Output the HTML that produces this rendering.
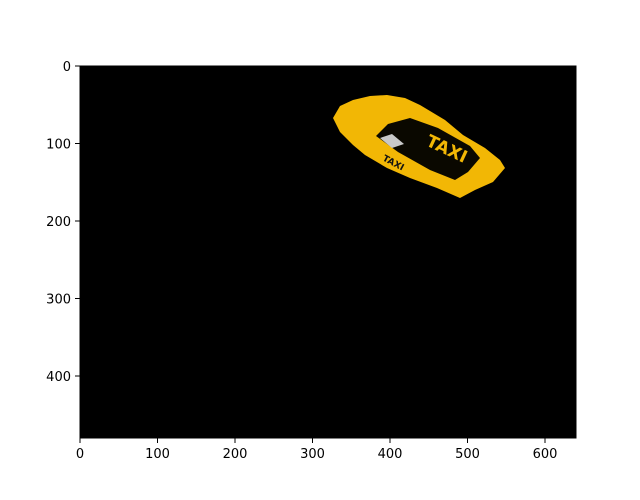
<!DOCTYPE html>
<html><head><meta charset="utf-8"><style>body{margin:0;background:#fff}svg{display:block;font-family:"DejaVu Sans","Liberation Sans",sans-serif}</style></head>
<body>
<svg width="640" height="500">
<rect x="0" y="0" width="640" height="500" fill="#fff"/>
<rect x="80" y="66" width="496" height="372" fill="#000"/>
<g>
<polygon points="333,118 340,106 353,100 370,96 387,95 405,98 420,105 445,120 463,135 485,148 500,160 505,168 493,182 475,190 460,198 437,188 410,178 387,168 365,155 353,145 340,132" fill="#f2b705"/>
<polygon points="376,136 388,124 410,118 438,128 470,146 480,158 468,172 455,180 430,170 398,152" fill="#0a0800"/>
<polygon points="380,138 392,134 404,144 392,148" fill="#c8c8c8"/>
<text x="382" y="160" font-size="9" font-weight="bold" fill="#111" transform="rotate(28 382 160)">TAXI</text>
<text x="425" y="145" font-size="17" font-weight="bold" fill="#f2b705" transform="rotate(25 425 145)">TAXI</text>
</g>
<rect x="80" y="66" width="496" height="372" fill="none" stroke="#000" stroke-width="1"/>
<g id="xt"></g>
<g id="yt"></g>
</svg>
<script>
const xTicks=[0,100,200,300,400,500,600];
const yTicks=[0,100,200,300,400];
const ns="http://www.w3.org/2000/svg";
const sx=v=>80+v*496/640, sy=v=>66+v*372/480;
const xg=document.getElementById('xt'), yg=document.getElementById('yt');
xTicks.forEach(t=>{
 const l=document.createElementNS(ns,'line');
 
 
 l.setAttribute('x1',sx(t));l.setAttribute('x2',sx(t));l.setAttribute('y1',438);l.setAttribute('y2',443);l.setAttribute('stroke','#000');
 xg.appendChild(l);
 const tx=document.createElementNS(ns,'text');
 
 
 tx.setAttribute('x',sx(t));tx.setAttribute('y',458);tx.setAttribute('text-anchor','middle');tx.setAttribute('font-size','13');
 tx.textContent=t;xg.appendChild(tx);
});
yTicks.forEach(t=>{
 const l=document.createElementNS(ns,'line');
 
 
 l.setAttribute('x1',75);l.setAttribute('x2',80);l.setAttribute('y1',sy(t));l.setAttribute('y2',sy(t));l.setAttribute('stroke','#000');
 yg.appendChild(l);
 const tx=document.createElementNS(ns,'text');
 
 
 tx.setAttribute('x',71);tx.setAttribute('y',sy(t)+5);tx.setAttribute('text-anchor','end');tx.setAttribute('font-size','13');
 tx.textContent=t;yg.appendChild(tx);
});
</script>
</body></html>
